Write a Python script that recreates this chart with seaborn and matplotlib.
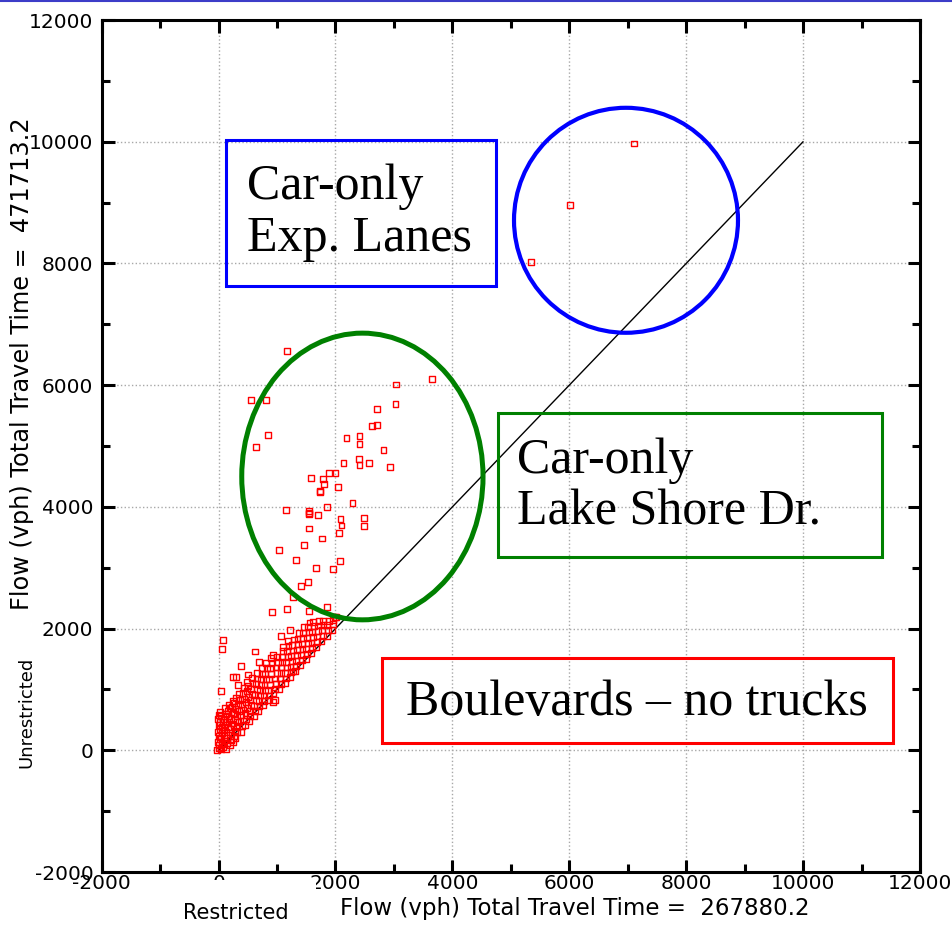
import matplotlib
matplotlib.use("Agg")
import numpy as np
import pandas as pd
import seaborn as sns
import matplotlib.pyplot as plt
from matplotlib.patches import Ellipse, Rectangle
from matplotlib.lines import Line2D
from matplotlib.ticker import MultipleLocator

# ---------------- data ----------------
# Car-only express lanes (blue circle)
exp_x = [5352, 6015, 7106]
exp_y = [8020, 8966, 9970]

# Car-only Lake Shore Dr. (green ellipse)
lsd_x = [1177, 560, 805, 3038, 3027, 3650, 2713, 2627, 2708, 845, 634, 2188, 2410, 2410,
         2822, 2399, 2410, 2570, 2925, 2136, 1588, 1788, 1799, 1742, 1731, 1890, 2000, 2039,
         2290, 1153, 1542, 1554, 1554, 1702, 1862, 2085, 2102, 2057, 2490, 2490, 1542, 1771,
         1033, 1456, 1319, 1674, 1959, 2079, 1531, 1417, 1268, 908, 1171, 1542, 1857, 2005]
lsd_y = [6566, 5753, 5753, 6011, 5693, 6104, 5605, 5325, 5342, 5187, 4989, 5133, 5160, 5034,
         4940, 4792, 4688, 4716, 4660, 4726, 4474, 4462, 4380, 4260, 4248, 4556, 4556, 4331,
         4067, 3947, 3930, 3892, 3880, 3864, 4001, 3803, 3694, 3568, 3810, 3688, 3645, 3480,
         3293, 3375, 3123, 2991, 2980, 3112, 2772, 2700, 2519, 2267, 2321, 2295, 2354, 2189]

# Boulevards - no trucks (dense band near the diagonal)
blvd_x = [-20, 0, 10, -10, 20, 5, -15, 15, 0, 25, -5, 10, 30, 40, 55, 45, 60, 50, 70, 35,
          80, 90, 100, 85, 110, 95, 120, 105, 130, 140, 150, 135, 160, 145, 170, 155, 180, 200,
          190, 210, 220, 200, 230, 215, 240, 225, 250, 245, 260, 275, 255, 280, 265, 290, 270,
          300, 250, 300, 330, 290, 310,
          320, 340, 315, 350, 330, 360, 345, 380, 395, 410, 385, 420, 400, 430, 415, 440, 480,
          500, 450, 470, 460, 490, 475, 500, 485, 510, 520, 540, 530, 555, 545, 570, 560, 580,
          575, 600, 620, 610, 635, 625, 650, 640, 660, 655, 680, 700, 690, 715, 705, 730, 720,
          745, 735, 760, 780, 770, 795, 785, 810, 800, 825, 815,
          840, 860, 850, 875, 865, 890, 880, 905, 895, 925, 940, 970, 960, 980, 970, 1000, 990,
          1015, 1005, 932, 1040, 1060, 1050, 1075, 1065, 1090, 1080, 1105, 1095, 1130, 1150,
          1140, 1165, 1155, 1180, 1170, 1195, 1190, 1220, 1240, 1230, 1255, 1245, 1270, 1260,
          1285, 1280, 1225, 1310, 1330, 1320, 1345, 1335, 1360, 1350, 1375, 1400, 1420, 1410,
          1435, 1425, 1450, 1440, 1465, 1490, 1510, 1500, 1525, 1515, 1540, 1530, 1555, 1580,
          1600, 1590, 1615, 1605, 1630, 1620, 1670, 1690, 1680, 1705, 1695, 1720, 1760, 1780,
          1770, 1795, 1785, 1850, 1870, 1860, 1885, 1940, 1960, 1950, 2000,
          69, 63, 628, 697, 1074, 389, 34]
blvd_y = [10, 40, 90, 140, 190, 240, 300, 350, 410, 460, 520, 580, 630, 20, 110, 210, 280, 380,
          470, 560, 50, 160, 250, 330, 420, 510, 600, 690, 20, 120, 200, 300, 380, 470, 560, 650,
          740, 690, 90, 170, 260, 350, 440, 530, 620, 720, 810, 130, 230, 320, 410, 500, 590, 680,
          770, 860, 1200, 1200, 1070, 200, 300,
          380, 470, 560, 650, 740, 830, 920, 300, 400, 490, 580, 670, 760, 850, 940, 1030, 1120,
          1245, 420, 520, 610, 700, 790, 880, 970, 1060, 480, 560, 650, 740, 830, 920, 1010, 1100,
          1190, 560, 640, 730, 820, 910, 1000, 1090, 1180, 1270, 650, 720, 810, 900, 990, 1080,
          1170, 1260, 1350, 740, 810, 900, 990, 1080, 1170, 1260, 1350, 1440,
          830, 900, 990, 1080, 1170, 1260, 1350, 1440, 1520, 800, 940, 830, 1000, 1090, 1180,
          1270, 1360, 1450, 1540, 1570, 1010, 1090, 1180, 1270, 1360, 1450, 1540, 1630, 1700,
          1110, 1180, 1270, 1360, 1450, 1540, 1630, 1720, 1790, 1210, 1280, 1370, 1460, 1550,
          1640, 1730, 1820, 1295, 1980, 1300, 1380, 1470, 1560, 1650, 1740, 1830, 1920, 1400,
          1480, 1570, 1660, 1750, 1840, 1930, 2020, 1500, 1580, 1670, 1760, 1850, 1940, 2030,
          2100, 1600, 1680, 1770, 1860, 1950, 2040, 2110, 1690, 1780, 1870, 1960, 2050, 2120,
          1790, 1880, 1970, 2060, 2130, 1880, 1970, 2060, 2120, 1980, 2070, 2140, 2196,
          1810, 1668, 1624, 1454, 1883, 1382, 970]

diag_x = [0, 10000]
diag_y = [0, 10000]

x_ticks = [-2000, 0, 2000, 4000, 6000, 8000, 10000, 12000]
y_ticks = [-2000, 0, 2000, 4000, 6000, 8000, 10000, 12000]

x_label = "Flow (vph) Total Travel Time =  267880.2"
y_label = "Flow (vph) Total Travel Time =  471713.2"

# ---------------- figure ----------------
sns.set_style("ticks")
plt.rcParams['font.family'] = ['DejaVu Sans']
plt.rcParams.update({
    "text.color": "black", "xtick.color": "black", "ytick.color": "black",
    "axes.labelcolor": "black", "axes.unicode_minus": False,
})

W, H = 953, 933
fig = plt.figure(figsize=(W / 100, H / 100), dpi=100)
ax = fig.add_axes([101.7 / W, 1 - 872 / H, (920 - 101.7) / W, (872 - 20) / H])

df = pd.DataFrame({
    "restricted": exp_x + lsd_x + blvd_x,
    "unrestricted": exp_y + lsd_y + blvd_y,
})

ax.plot(diag_x, diag_y, color="black", lw=1.0, zorder=2)
sns.scatterplot(data=df, x="restricted", y="unrestricted", marker="s", s=18,
                color="red", facecolors="none", edgecolor="red", linewidth=1.0,
                ax=ax, zorder=3, legend=False)

ax.set_xlim(-2000, 12000)
ax.set_ylim(-2000, 12000)
ax.set_xticks(x_ticks)
ax.set_yticks(y_ticks)
ax.xaxis.set_minor_locator(MultipleLocator(1000))
ax.yaxis.set_minor_locator(MultipleLocator(1000))
ax.tick_params(which="both", direction="in", top=True, right=True, width=2.2, color="black",
               labelsize=14.5, labelcolor="black")
ax.tick_params(which="major", length=9)
ax.tick_params(which="minor", length=5.5)
ax.tick_params(axis="x", pad=1.5)
ax.tick_params(axis="y", pad=6)
ax.grid(which="major", linestyle=":", color="#a8a8a8", linewidth=1.0, zorder=0)
for sp in ax.spines.values():
    sp.set_linewidth(2.2)
    sp.set_color("black")
ax.set_xlabel("")
ax.set_ylabel("")

# ellipses
ax.add_patch(Ellipse((6970, 8709), 3832, 3697, fill=False, edgecolor="#0000ff", lw=3.0, zorder=4))
ax.add_patch(Ellipse((2460, 4499), 4128, 4711, fill=False, edgecolor="#008000", lw=3.6, zorder=4))

# annotation boxes
serif = ["Liberation Serif", "DejaVu Serif"]
ax.add_patch(Rectangle((127, 7632), 4746 - 127, 10031 - 7632, fill=False, edgecolor="#0000ff",
                       lw=2.2, zorder=5, clip_on=False))
ax.text(486, 8832, "Car-only\nExp. Lanes", family=serif, fontsize=36, va="center", ha="left",
        linespacing=1.15, zorder=6, color="black")
ax.add_patch(Rectangle((4780, 3179), 11350 - 4780, 5546 - 3179, fill=False, edgecolor="#008000",
                       lw=2.2, zorder=5, clip_on=False))
ax.text(5105, 4330, "Car-only\nLake Shore Dr.", family=serif, fontsize=36, va="center", ha="left",
        linespacing=1.15, zorder=6, color="black")
ax.add_patch(Rectangle((2796, 123), 11538 - 2796, 1520 - 123, fill=False, edgecolor="#ff0000",
                       lw=2.2, zorder=5, clip_on=False))
ax.text(7158, 780, "Boulevards \u2013 no trucks", family=serif, fontsize=36, va="center",
        ha="center", zorder=6, color="black")

# axis titles (as in the original slide)
fig.add_artist(Rectangle((150 / W, 0), (316 - 150) / W, (H - 880) / H, transform=fig.transFigure,
                         facecolor="white", edgecolor="none", zorder=2))
fig.text(575 / W, 1 - 908 / H, x_label, fontsize=16.5, ha="center", va="center", zorder=3)
fig.text(236 / W, 1 - 913 / H, "Restricted", fontsize=15, ha="center", va="center", zorder=3)
fig.text(22 / W, 1 - 364 / H, y_label, fontsize=17.3, rotation=90, ha="center", va="center")
fig.text(26 / W, 1 - 712 / H, "Unrestricted", fontsize=13, rotation=90, ha="center", va="center")

fig.add_artist(Line2D([0, 1], [1 - 1 / H, 1 - 1 / H], color="#3c3cc8", lw=1.5,
                      transform=fig.transFigure))

fig.savefig("out.png", dpi=100)
